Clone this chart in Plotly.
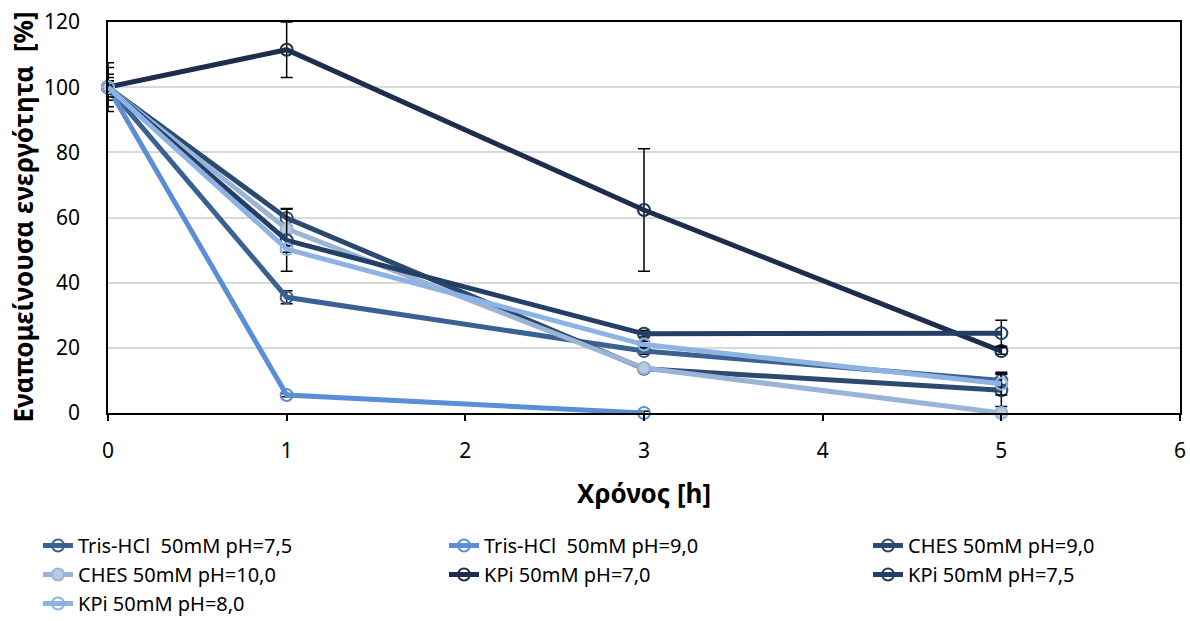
import plotly.graph_objects as go

x_hours = [0, 1, 3, 5]

names = [
    "Tris-HCl  50mM pH=7,5",
    "Tris-HCl  50mM pH=9,0",
    "CHES 50mM pH=9,0",
    "CHES 50mM pH=10,0",
    "KPi 50mM pH=7,0",
    "KPi 50mM pH=7,5",
    "KPi 50mM pH=8,0",
]

tris75 = [100, 35.5, 19.0, 10.0]
tris90 = [100, 5.5, 0.0, None]
ches90 = [100, 59.8, 13.6, 7.0]
ches100 = [100, 56.5, 13.8, 0.0]
kpi70 = [100, 111.5, 62.3, 19.0]
kpi75 = [100, 53.0, 24.3, 24.5]
kpi80 = [100, 50.3, 21.0, 9.0]

tris75_err = [4, 2, 1, 2]
tris90_err = [2, 0.5, 0.5, 0]
ches90_err = [2, 3, 1, 5]
ches100_err = [1, 1, 1, 0]
kpi70_err = [7.5, 8.5, 18.8, 1]
kpi75_err = [6, 9.5, 1, 4]
kpi80_err = [3, 1, 1, 3.5]

series = [tris75, tris90, ches90, ches100, kpi70, kpi75, kpi80]
errors = [tris75_err, tris90_err, ches90_err, ches100_err, kpi70_err, kpi75_err, kpi80_err]
colors = ["#3A6192", "#5B8ED6", "#2C4A70", "#9AB4D8", "#1C2E4C", "#233F66", "#8DB3E2"]
fills = [None, None, None, "#B8C9E0", None, None, None]
# legend column of each series (Excel-style 3-column legend)
legend_ids = ["legend", "legend2", "legend3", "legend", "legend2", "legend3", "legend"]

FONT = "Noto Sans"

fig = go.Figure()
for i, (name, ys, err, col, fill, lg) in enumerate(zip(names, series, errors, colors, fills, legend_ids)):
    fig.add_trace(go.Scatter(
        x=x_hours, y=ys, name=name, mode="lines+markers",
        line=dict(color=col, width=5),
        marker=dict(symbol="circle", size=12,
                    color="rgba(0,0,0,0)" if fill is None else fill,
                    line=dict(color=col, width=2)),
        error_y=dict(type="data", array=err, visible=True, color="black", thickness=1.5, width=6),
        cliponaxis=False,
        legend=lg,
        legendrank=i,
    ))

def px_x(px):
    return (px - 108) / 1072.0

def px_y(py):
    return (413 - py) / 391.0

legend_common = dict(
    orientation="v", xanchor="left", yanchor="top",
    font=dict(family=FONT, size=20, color="black"),
    bgcolor="rgba(0,0,0,0)", borderwidth=0, tracegroupgap=0,
)

fig.update_layout(
    width=1190, height=621,
    paper_bgcolor="white", plot_bgcolor="white",
    margin=dict(l=108, r=10, t=22, b=208, autoexpand=False),
    font=dict(family=FONT, size=21, color="black"),
    xaxis=dict(
        range=[0, 6], dtick=1, tick0=0, automargin=False,
        showline=True, linecolor="black", linewidth=1.5, mirror=True,
        showgrid=False, zeroline=False,
        ticks="outside", ticklen=6, tickcolor="black", tickwidth=1.5,
        ticklabelstandoff=12,
        tickfont=dict(family=FONT, size=21, color="black"),
    ),
    yaxis=dict(
        range=[0, 120], dtick=20, automargin=False,
        showline=True, linecolor="black", linewidth=1.5, mirror=True,
        showgrid=True, gridcolor="#D9D9D9", gridwidth=1.5, zeroline=False,
        ticks="", ticklabelstandoff=22,
        tickfont=dict(family=FONT, size=21, color="black"),
    ),
    legend=dict(x=px_x(38), y=px_y(526), **legend_common),
    legend2=dict(x=px_x(444), y=px_y(526), **legend_common),
    legend3=dict(x=px_x(868), y=px_y(526), **legend_common),
    showlegend=True,
    annotations=[
        dict(text="<b>Χρόνος [h]</b>", xref="paper", yref="paper", x=0.5, y=0,
             xanchor="center", yanchor="middle", yshift=-80, showarrow=False,
             font=dict(family=FONT, size=26, color="black")),
        dict(text="<b>Εναπομείνουσα ενεργότητα  [%]</b>", xref="paper", yref="paper", x=0, y=0.5,
             xanchor="center", yanchor="middle", xshift=-86, textangle=-90, showarrow=False,
             font=dict(family=FONT, size=26, color="black")),
    ],
)

fig.write_html("out.html", config={"displayModeBar": False},
               post_script="document.body.style.margin='0';")
